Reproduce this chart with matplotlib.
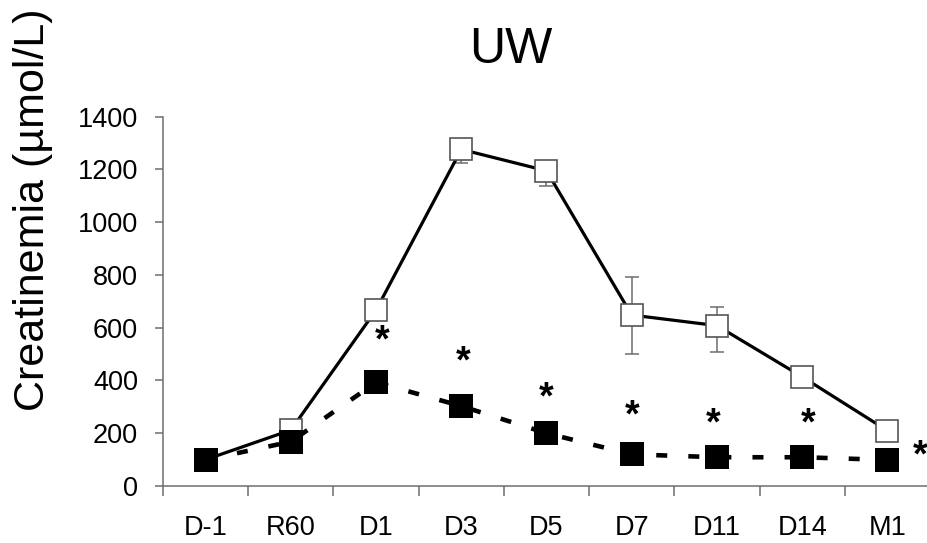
import matplotlib
matplotlib.use("Agg")
import matplotlib.pyplot as plt
import numpy as np

plt.rcParams['font.family'] = ['Liberation Sans', 'DejaVu Sans']

categories = ["D-1", "R60", "D1", "D3", "D5", "D7", "D11", "D14", "M1"]
open_vals = [100, 212, 667, 1276, 1195, 648, 608, 414, 210]
open_err_lo = [0, 0, 0, 53, 57, 149, 99, 0, 0]
open_err_hi = [0, 0, 0, 30, 30, 145, 72, 0, 0]
filled_vals = [99, 168, 393, 303, 200, 120, 109, 109, 99]
star_x = [2.07, 3.02, 4.0, 5.0, 5.95, 7.07, 8.38]
star_y = [547, 470, 333, 263, 235, 235, 111]
yticks = [0, 200, 400, 600, 800, 1000, 1200, 1400]

W, H = 928, 543
fig = plt.figure(figsize=(W / 100, H / 100), dpi=100)
ax = fig.add_axes([163 / W, 57 / H, (930 - 163) / W, 369.3 / H])

x = np.arange(len(categories))
axis_col = '#6e6e6e'

# open series with error bars
ax.errorbar(x, open_vals, yerr=[open_err_lo, open_err_hi], fmt='none',
            ecolor=axis_col, elinewidth=1.1, capsize=5, capthick=1.1, zorder=2)
ax.plot(x, open_vals, color='black', lw=2.3, zorder=3)
ax.plot(x, open_vals, ls='none', marker='s', ms=15.5, mfc='white',
        mec='#555555', mew=1.2, zorder=4)

# filled series
ax.plot(x, filled_vals, color='black', lw=3.3, dashes=(2.4, 4.6),
        dash_capstyle='butt', zorder=5)
ax.plot(x, filled_vals, ls='none', marker='s', ms=17.3, mfc='black',
        mec='black', mew=0, zorder=6)

for sx, sy in zip(star_x, star_y):
    ax.text(sx, sy, '*', fontsize=27, fontweight='bold', ha='center',
            va='center', color='black', zorder=7)

ax.set_xlim(-0.5, len(categories) - 0.5)
ax.set_ylim(0, 1400)
ax.set_yticks(yticks)
ax.set_yticklabels([str(v) for v in yticks], fontsize=19.5)
ax.set_xticks(x)
ax.set_xticklabels(categories, fontsize=19.5)
ax.set_xticks(np.arange(-0.5, len(categories) - 0.5, 1.0), minor=True)
ax.tick_params(axis='x', which='major', length=0, pad=21)
ax.tick_params(axis='x', which='minor', length=7.5, width=1.1, color=axis_col,
               direction='out')
ax.tick_params(axis='y', length=6, width=1.1, color=axis_col, pad=12)

for s in ['top', 'right']:
    ax.spines[s].set_visible(False)
for s in ['left', 'bottom']:
    ax.spines[s].set_color(axis_col)
    ax.spines[s].set_linewidth(1.1)

fig.text(511 / W, 1 - 50 / H, 'UW', fontsize=36, ha='center', va='center')
fig.text(33 / W, 1 - 210 / H, 'Creatinemia (µmol/L)', fontsize=31,
         rotation=90, ha='center', va='center')

fig.savefig('out.png', dpi=100)
